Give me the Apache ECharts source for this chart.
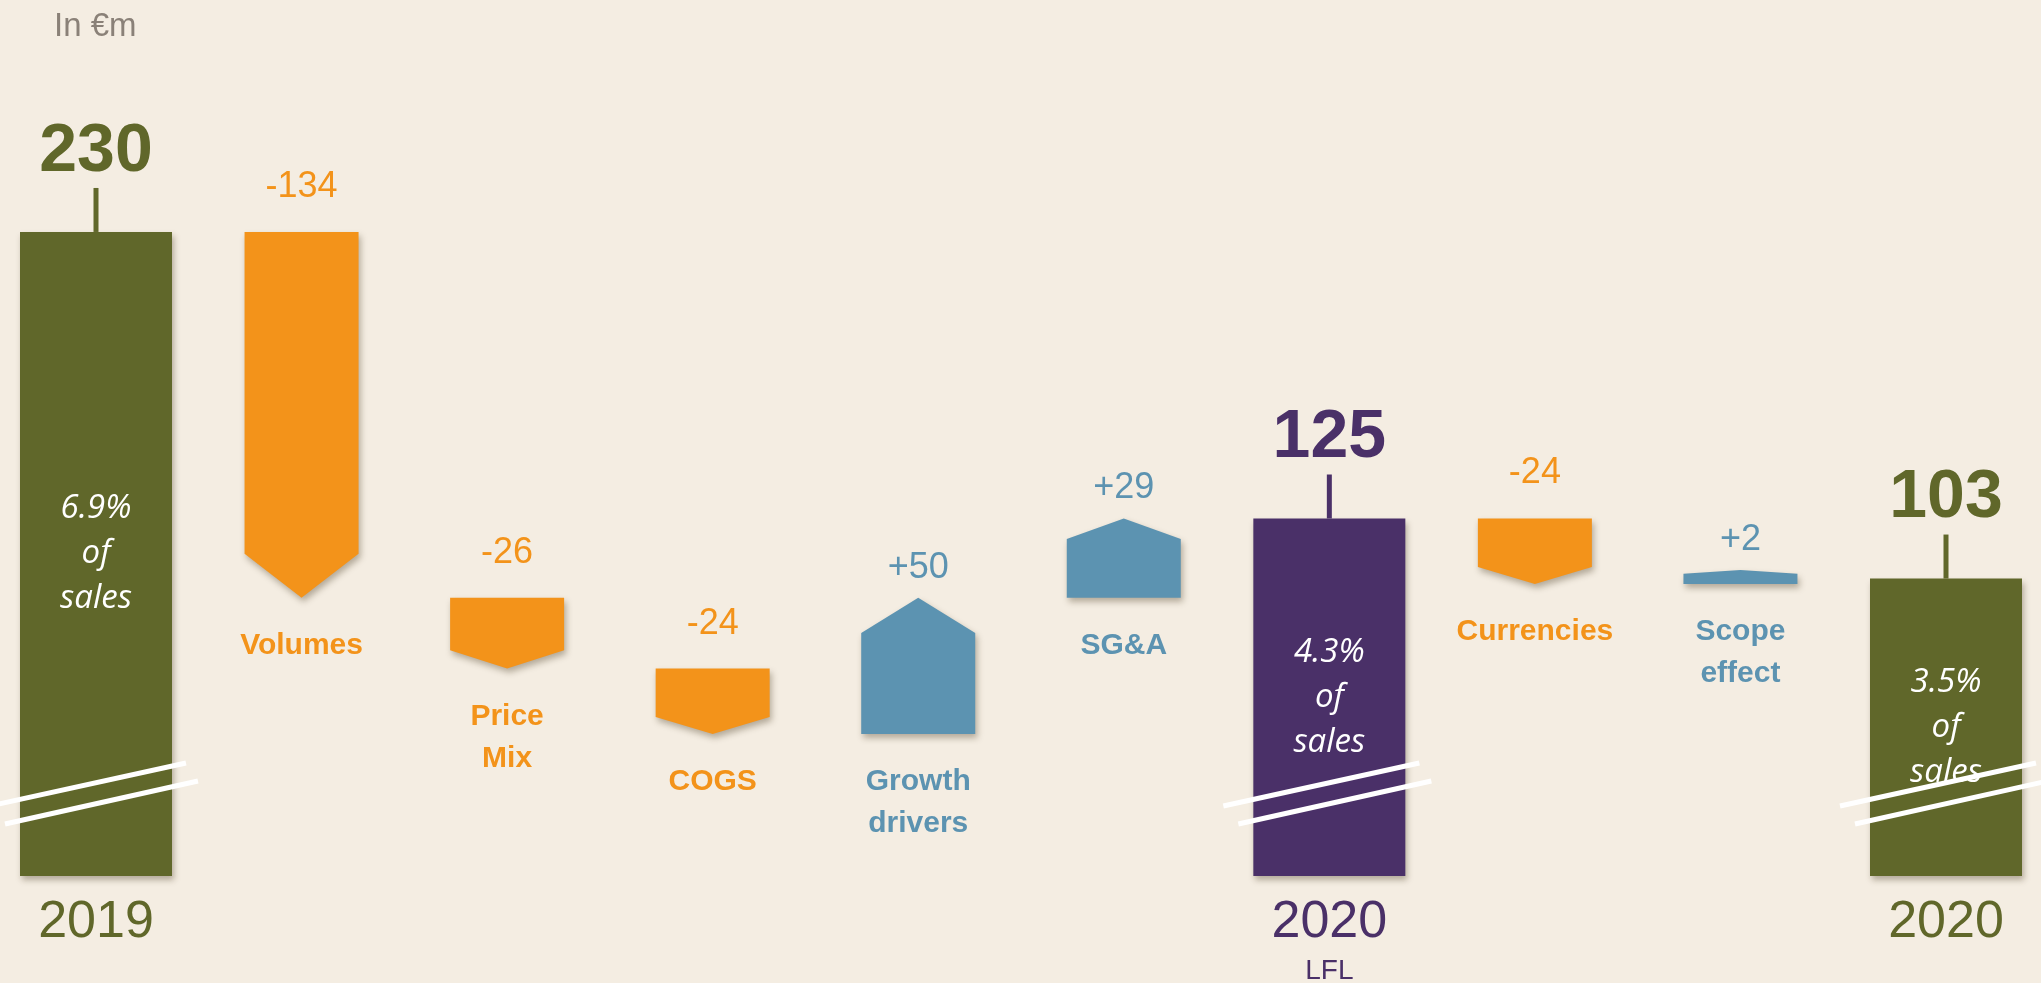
<!DOCTYPE html>
<html>
<head>
<meta charset="utf-8">
<title>EBITDA bridge</title>
<script src="https://cdn.jsdelivr.net/npm/echarts@6/dist/echarts.min.js"></script>
<style>
	html, body { margin: 0; padding: 0; background: #f4ede2; }
	#bridgeChart { width: 2041px; height: 986px; }
</style>
</head>
<body>
<div id="bridgeChart"></div>
<script>
	// bridge steps, in €m
	const categories = ['2019', 'Volumes', 'Price\nMix', 'COGS', 'Growth\ndrivers', 'SG&A', '2020\nLFL', 'Currencies', 'Scope\neffect', '2020']
	const stepType = ['total', 'delta', 'delta', 'delta', 'delta', 'delta', 'total', 'delta', 'delta', 'total']
	const stepValues = [230, -134, -26, -24, 50, 29, 125, -24, 2, 103]
	const salesShare = ['6.9%', '', '', '', '', '', '4.3%', '', '', '3.5%']
	const unitLabel = 'In €m'

	// axis is broken: totals start from the bottom of the axis
	const yMin = -6
	const yMax = 315

	const green = '#60672a'
	const purple = '#4a3068'
	const orange = '#f3931a'
	const blue = '#5c93b1'

	let running = 0
	const bridgeData = stepValues.map((v, i) => {
		if (stepType[i] === 'total') {
			running = v
			return [i, yMin, v]
		}
		const start = running
		running += v
		return [i, start, running]
	})

	const shadow = {
		shadowBlur: 6,
		shadowOffsetX: 2,
		shadowOffsetY: 4,
		shadowColor: 'rgba(60,45,20,0.35)'
	}

	const renderStep = (params, api) => {
		const i = params.dataIndex
		const c = api.coord([api.value(0), 0])[0]
		const y1 = api.coord([api.value(0), api.value(1)])[1]
		const y2 = api.coord([api.value(0), api.value(2)])[1]
		const kids = []

		if (stepType[i] === 'total') {
			const col = i === 6 ? purple : green
			const w = 152
			kids.push({
				type: 'rect',
				shape: { x: c - w / 2, y: y2, width: w, height: y1 - y2 },
				style: Object.assign({ fill: col }, shadow)
			})
			kids.push({
				type: 'line',
				shape: { x1: c, y1: y2 - 44, x2: c, y2: y2 },
				style: { stroke: col, lineWidth: 5 }
			})
			kids.push({
				type: 'text',
				style: {
					text: String(stepValues[i]), x: c, y: y2 - 80,
					align: 'center', verticalAlign: 'middle',
					font: 'bold 68px "Liberation Sans"', fill: col
				}
			})
			kids.push({
				type: 'text',
				style: {
					text: salesShare[i] + '\nof\nsales', x: c, y: (y1 + y2) / 2,
					align: 'center', verticalAlign: 'middle', lineHeight: 45,
					font: 'italic 33px "Open Sans"', fill: '#ffffff'
				}
			})
			// break marks
			kids.push({
				type: 'line',
				shape: { x1: c - 106, y1: y1 - 70, x2: c + 90, y2: y1 - 113 },
				style: { stroke: '#ffffff', lineWidth: 5 }
			})
			kids.push({
				type: 'line',
				shape: { x1: c - 91, y1: y1 - 52, x2: c + 102, y2: y1 - 95 },
				style: { stroke: '#ffffff', lineWidth: 5 }
			})
			const parts = categories[i].split('\n')
			kids.push({
				type: 'text',
				style: {
					text: parts[0], x: c, y: y1 + 47,
					align: 'center', verticalAlign: 'middle',
					font: '52px "Liberation Sans"', fill: col
				}
			})
			if (parts[1]) {
				kids.push({
					type: 'text',
					style: {
						text: parts[1], x: c, y: y1 + 95,
						align: 'center', verticalAlign: 'middle',
						font: '28px "Liberation Sans"', fill: col
					}
				})
			}
		} else {
			const w = 114
			const v = stepValues[i]
			const neg = v < 0
			const col = neg ? orange : blue
			let top = neg ? y1 : y2
			let bottom = neg ? y2 : y1
			if (bottom - top < 14) {
				top = bottom - 14
			}
			const h = bottom - top
			const th = Math.min(h * 0.26, 44)
			const pts = neg
				? [[c - w / 2, top], [c + w / 2, top], [c + w / 2, bottom - th], [c, bottom], [c - w / 2, bottom - th]]
				: [[c - w / 2, bottom], [c + w / 2, bottom], [c + w / 2, top + th], [c, top], [c - w / 2, top + th]]
			kids.push({
				type: 'polygon',
				shape: { points: pts },
				style: Object.assign({ fill: col }, shadow)
			})
			kids.push({
				type: 'text',
				style: {
					text: (v > 0 ? '+' : '') + v, x: c, y: neg ? top - 45 : top - 30,
					align: 'center', verticalAlign: 'middle',
					font: '36px "Liberation Sans"', fill: col
				}
			})
			kids.push({
				type: 'text',
				style: {
					text: categories[i], x: c, y: bottom + 27,
					align: 'center', verticalAlign: 'top', lineHeight: 42,
					font: 'bold 30px "Liberation Sans"', fill: col
				}
			})
		}
		return { type: 'group', children: kids }
	}

	const myChart = echarts.init(document.getElementById('bridgeChart'))
	const option = {
		backgroundColor: '#f4ede2',
		animation: false,
		grid: {
			left: 96,
			right: 95,
			top: 0,
			height: 876
		},
		xAxis: {
			type: 'category',
			boundaryGap: false,
			data: categories,
			show: false
		},
		yAxis: {
			type: 'value',
			min: yMin,
			max: yMax,
			show: false
		},
		graphic: [{
			type: 'text',
			left: 54,
			top: 10,
			style: {
				text: unitLabel,
				font: '33px "Liberation Sans"',
				fill: '#8a8178'
			}
		}, {
			type: 'rect',
			left: 0,
			top: 983,
			shape: { width: 2041, height: 3 },
			style: { fill: '#ffffff' }
		}],
		series: [{
			type: 'custom',
			renderItem: renderStep,
			data: bridgeData,
			encode: { x: 0, y: [1, 2] },
			clip: false,
			silent: true
		}]
	}
	myChart.setOption(option)
</script>
</body>
</html>
